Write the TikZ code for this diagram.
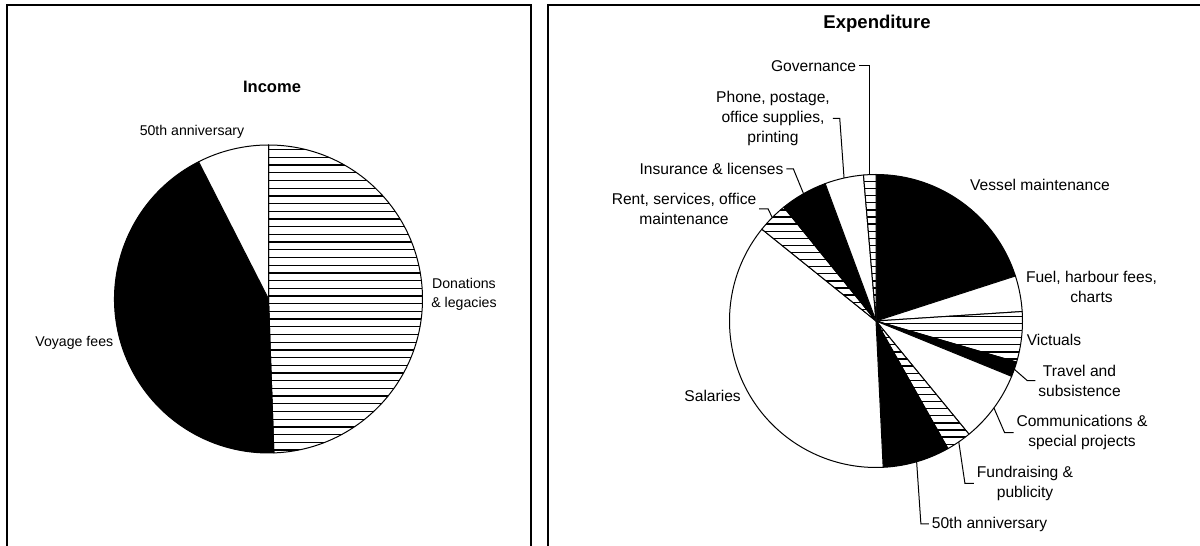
\documentclass[tikz,border=0pt]{standalone}
\usepackage{fontspec}
\setmainfont{Liberation Sans}
\usetikzlibrary{calc}
\tikzset{
  slice/.style={draw=black, line width=0.75pt, line join=round},
  blk/.style={slice, fill=black},
  wht/.style={slice, fill=white},
  hatchline/.style={draw=black, line width=1pt},
  leader/.style={draw=black, line width=0.75pt},
  panel/.style={draw=black, line width=1.5pt},
  lbl/.style={inner sep=2pt, font=\fontsize{10.6pt}{14pt}\selectfont, align=center},
  rlbl/.style={inner sep=2pt, font=\fontsize{11.7pt}{15pt}\selectfont, align=center},
  ltitle/.style={inner sep=2pt, font=\fontsize{12.4pt}{15pt}\selectfont\bfseries},
  rtitle/.style={inner sep=2pt, font=\fontsize{13.9pt}{16pt}\selectfont\bfseries}
}
\newcommand\wedgepath[5]{\path[#5] (#1) -- ++(#3:#2) arc[start angle=#3,end angle=#4,radius=#2] -- cycle;}
\newcommand\hatched[6]{%
  \wedgepath{#1}{#2}{#3}{#4}{fill=white}
  \begin{scope}
    \wedgepath{#1}{#2}{#3}{#4}{clip}
    \foreach \k in {0,...,46} {\draw[hatchline] ($(#1)+(-#2,{-#2+\k*#6+#5})$) -- ++({2*#2},0);}
  \end{scope}
  \wedgepath{#1}{#2}{#3}{#4}{slice}
}
\begin{document}
\begin{tikzpicture}[x=0.75pt,y=0.75pt]
\useasboundingbox (0,0) rectangle (1200,546);
\fill[white] (0,0) rectangle (1200,546);
% panels
\draw[panel] (7,0) -- (7,541) -- (531,541) -- (531,0);
\draw[panel] (548,0) -- (548,541) -- (1200,541);

% ---------------- Income pie
\coordinate (lc) at (268.5,247);
\hatched{lc}{154}{-88}{90}{3}{7.7}
\wedgepath{lc}{154}{117}{272}{blk}
\wedgepath{lc}{154}{90}{117}{wht}

\node[ltitle] (inc) at (272,459) {Income};
\node[lbl] (l50) at (192,414) {50th anniversary};
\node[lbl] (don) at (464,251.6) {Donations\\\& legacies};
\node[lbl] (voy) at (74.3,203) {Voyage fees};

% ---------------- Expenditure pie
\coordinate (rc) at (876,225);
\wedgepath{rc}{146.5}{17.9}{90}{blk}
\wedgepath{rc}{146.5}{3.7}{17.9}{wht}
\hatched{rc}{146.5}{-16.3}{3.7}{2}{7.1}
\wedgepath{rc}{146.5}{-22.2}{-16.3}{blk}
\wedgepath{rc}{146.5}{-50.6}{-22.2}{wht}
\hatched{rc}{146.5}{-60.6}{-50.6}{2}{7.1}
\wedgepath{rc}{146.5}{-87.2}{-60.6}{blk}
\wedgepath{rc}{146.5}{141.2}{272.8}{wht}
\hatched{rc}{146.5}{129}{141.2}{2}{7.1}
\wedgepath{rc}{146.5}{110.3}{129}{blk}
\wedgepath{rc}{146.5}{94.9}{110.3}{wht}
\hatched{rc}{146.5}{90}{94.9}{2}{7.1}

\coordinate (govE) at ($(rc)+(92.45:146.5)$);
\coordinate (phoE) at ($(rc)+(102.6:146.5)$);
\coordinate (insE) at ($(rc)+(119.65:146.5)$);
\coordinate (renE) at ($(rc)+(135.1:146.5)$);
\coordinate (traE) at ($(rc)+(-19.25:146.5)$);
\coordinate (comE) at ($(rc)+(-36.4:146.5)$);
\coordinate (funE) at ($(rc)+(-55.6:146.5)$);
\coordinate (annE) at ($(rc)+(-73.9:146.5)$);

\node[rtitle] (exp) at (877,522) {Expenditure};
\node[rlbl, anchor=east] (gov) at (859,480) {Governance};
\node[rlbl] (pho) at (773,427.5) {Phone, postage,\\office supplies,\\printing};
\node[rlbl] (ins) at (711.5,377) {Insurance \& licenses};
\node[rlbl] (ren) at (684,337) {Rent, services, office\\maintenance};
\node[rlbl] (ves) at (1040,361.2) {Vessel maintenance};
\node[rlbl] (fue) at (1091.5,259.3) {Fuel, harbour fees,\\charts};
\node[rlbl] (vic) at (1054,206) {Victuals};
\node[rlbl] (tra) at (1079.5,165.3) {Travel and\\subsistence};
\node[rlbl] (com) at (1082,113.3) {Communications \&\\special projects};
\node[rlbl] (fun) at (1025,62.5) {Fundraising \&\\publicity};
\node[rlbl] (ann) at (989.5,22) {50th anniversary};
\node[rlbl] (sal) at (712.6,150.3) {Salaries};

\draw[leader] (gov.east) -| (govE);
\draw[leader] (pho.east) -- ++(7,0) -- (phoE);
\draw[leader] (ins.east) -- ++(7,0) -- (insE);
\draw[leader] (ren.east) -- ++(9,0) -- (renE);
\draw[leader] (tra.west) -- ++(-8,0) -- (traE);
\draw[leader] (com.west) -- ++(-9,0) -- (comE);
\draw[leader] (fun.west) -- ++(-9,0) -- (funE);
\draw[leader] (ann.west) -- ++(-8,0) -- (annE);
\end{tikzpicture}
\end{document}
